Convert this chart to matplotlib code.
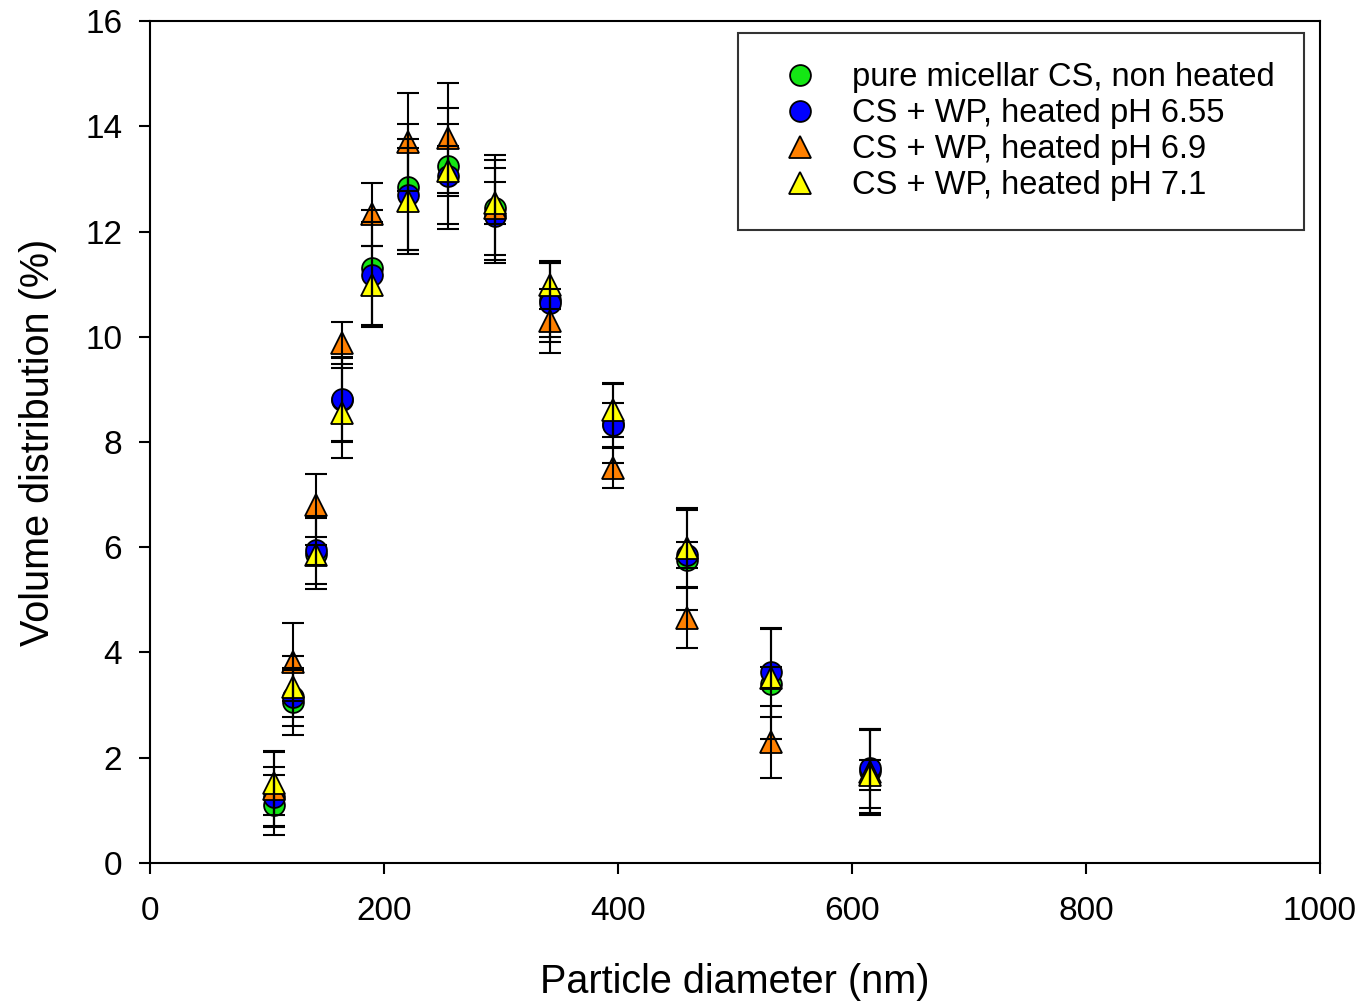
import matplotlib
matplotlib.use("Agg")
import matplotlib.pyplot as plt

# -------------------------------------------------
# Data
# -------------------------------------------------

diameter = [105.7, 122.4, 141.8, 164.2, 190.1, 220.2, 255.0,
            295.3, 342.0, 396.1, 458.7, 531.2, 615.1]

green_vals = [1.10, 3.05, 5.88, 8.80, 11.30, 12.85, 13.25, 12.45, 10.70, 8.35, 5.75, 3.40, 1.75]
green_err = [0.57, 0.62, 0.67, 0.80, 1.10, 1.20, 1.10, 0.90, 0.70, 0.75, 0.95, 1.05, 0.80]

blue_vals = [1.25, 3.15, 5.95, 8.82, 11.18, 12.70, 13.05, 12.30, 10.65, 8.32, 5.85, 3.62, 1.80]
blue_err = [0.57, 0.55, 0.65, 0.80, 1.00, 1.05, 1.00, 0.90, 0.75, 0.42, 0.25, 0.85, 0.75]

orange_vals = [1.40, 3.82, 6.80, 9.88, 12.33, 13.70, 13.78, 12.45, 10.30, 7.50, 4.66, 2.30, 1.72]
orange_err = [0.70, 0.74, 0.60, 0.40, 0.60, 0.93, 1.05, 1.00, 0.60, 0.38, 0.58, 0.68, 0.80]

yellow_vals = [1.52, 3.35, 5.85, 8.55, 10.98, 12.58, 13.15, 12.55, 10.98, 8.61, 5.99, 3.52, 1.67]
yellow_err = [0.60, 0.58, 0.19, 0.85, 0.75, 1.00, 0.47, 0.40, 0.45, 0.51, 0.76, 0.20, 0.28]

labels = ["pure micellar CS, non heated",
          "CS + WP, heated pH 6.55",
          "CS + WP, heated pH 6.9",
          "CS + WP, heated pH 7.1"]

# -------------------------------------------------
# Plot
# -------------------------------------------------

plt.rcParams["font.family"] = ["Liberation Sans", "DejaVu Sans"]

fig = plt.figure(figsize=(13.65, 10.05), dpi=100)
ax = fig.add_axes([0.1099, 0.1413, 0.8571, 0.8378])

series = [
    (green_vals, green_err, "o", "#14e614", 15),
    (blue_vals, blue_err, "o", "#0000ff", 15),
    (orange_vals, orange_err, "^", "#ff8000", 16),
    (yellow_vals, yellow_err, "^", "#ffff00", 16),
]

for (vals, err, mk, col, ms), lab in zip(series, labels):
    ax.plot(diameter, vals, linestyle="none", marker=mk, markersize=ms,
            markerfacecolor=col, markeredgecolor="black",
            markeredgewidth=1.3, label=lab, zorder=2)

for vals, err, mk, col, ms in series:
    ax.errorbar(diameter, vals, yerr=err, fmt="none", ecolor="black",
                elinewidth=1.5, capsize=8, capthick=1.5, zorder=3)

ax.set_xlim(0, 1000)
ax.set_ylim(0, 16)
ax.set_xticks(range(0, 1001, 200))
ax.set_yticks(range(0, 17, 2))

for sp in ax.spines.values():
    sp.set_linewidth(1.5)

ax.tick_params(direction="out", length=8, width=1.5, labelsize=24)
ax.tick_params(axis="x", pad=16)
ax.tick_params(axis="y", pad=12)

ax.set_xlabel("Particle diameter (nm)", fontsize=28.5, labelpad=26)
ax.set_ylabel("Volume distribution (%)", fontsize=28.5, labelpad=20)

leg = ax.legend(loc="upper right", bbox_to_anchor=(0.9863, 0.9857),
                fontsize=23.5, numpoints=1, frameon=True, fancybox=False,
                edgecolor="black", borderpad=0.9, labelspacing=0.15,
                handlelength=2.0, handletextpad=0.6, borderaxespad=0)
leg.get_frame().set_linewidth(1.5)

plt.savefig("out.png", dpi=100)
plt.close()
